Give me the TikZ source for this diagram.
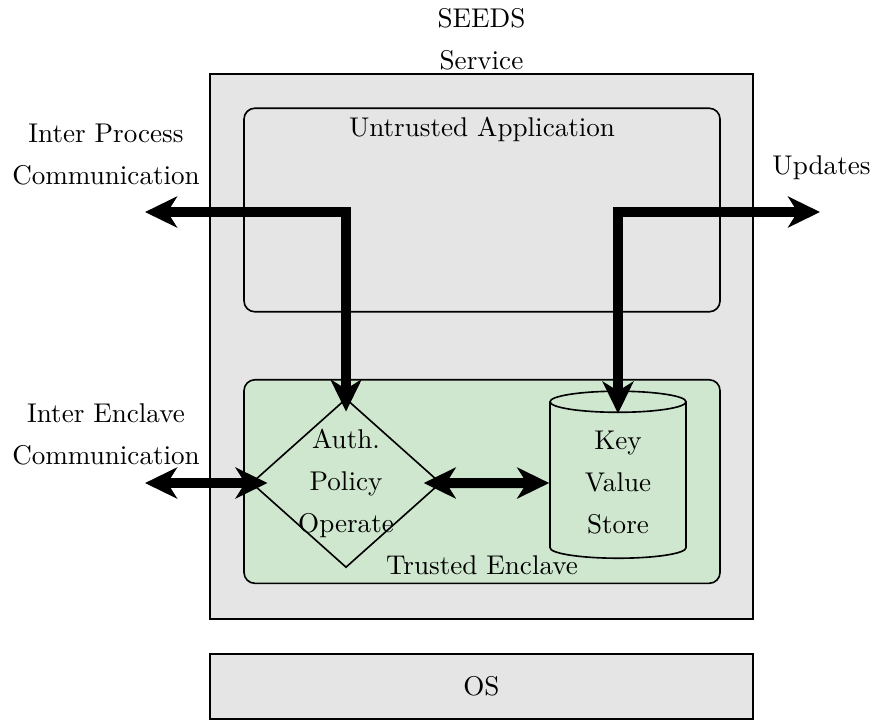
\documentclass[tikz,border=0pt]{standalone}
\usepackage{amsmath}
\usepackage{tikz}
\usetikzlibrary{shapes.geometric, arrows.meta}
\definecolor{enclave}{RGB}{207,231,207}

\begin{document}
\begin{tikzpicture}[>={Stealth[length=11.8pt, width=11.4pt, inset=3.5pt]},
    box/.style={draw, semithick, fill=gray!20},
    inbox/.style={draw, semithick, rounded corners, minimum width=6.174cm, minimum height=2.64cm},
    flow/.style={<->, line width=3.7pt}]

    \useasboundingbox (0,0) rectangle (11.375,9.326);

    % service and os
    \draw(6.245,4.83) node[box, minimum width=7.043cm, minimum height=7.069cm] (S) {};
    \draw(S.north) node[above, inner sep=1pt, align=center] (SL) {SEEDS\\[3.5pt]Service};
    \draw(6.245,0.4215) node[box, minimum width=7.043cm, minimum height=0.843cm] (O) {OS};

    % the two halves
    \draw(6.252,6.602) node[inbox] (U) {};
    \draw(U.north) node[below] (UL) {Untrusted Application};
    \draw(6.252,3.08) node[inbox, fill=enclave] (T) {};
    \draw(T.south) node[above] (TL) {Trusted Enclave};

    \draw(4.488,3.061) node[diamond, draw, semithick, aspect=1.12, inner sep=-0.086cm, align=center] (D)
    {Auth.\\[3.5pt]Policy\\[3.5pt]Operate};
    \draw(8.016,3.061) node[cylinder, shape border rotate=90, draw, semithick, aspect=0.25,
    minimum width=1.764cm, minimum height=2.166cm, align=center] (K)
    {Key\\[3.5pt]Value\\[3.5pt]Store};

    % outside
    \draw(1.375,7.318) node[align=center] (IPC) {Inter Process\\[3.5pt]Communication};
    \draw(1.375,3.686) node[align=center] (IEC) {Inter Enclave\\[3.5pt]Communication};
    \draw(10.655,7.147) node (UP) {Updates};

    \coordinate (P) at (1.881,6.576);
    \coordinate (Q) at (10.636,6.576);
    \coordinate (E) at (1.881,3.061);

    \draw[flow] (P) -| ([yshift=-0.18cm]D.north);
    \draw[flow] ([yshift=-0.3cm]K.north) |- (Q);
    \draw[flow] (E) -- ([xshift=0.22cm]D.west);
    \draw[flow] ([xshift=-0.23cm]D.east) -- (K.west);

\end{tikzpicture}
\end{document}
